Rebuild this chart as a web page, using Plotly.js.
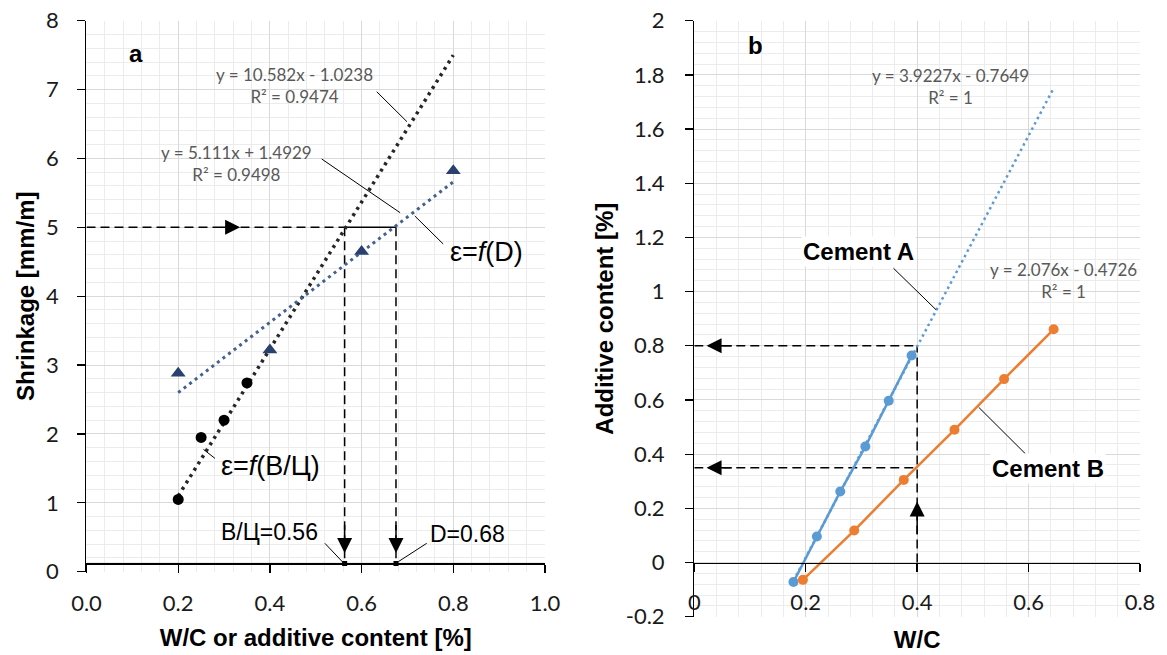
<!DOCTYPE html>
<html>
<head>
<meta charset="utf-8">
<script src="https://cdn.plot.ly/plotly-3.0.1.min.js"></script>
<style>html,body{margin:0;padding:0;background:#fff;}#chart{width:1167px;height:655px;}</style>
</head>
<body>
<div id="chart"></div>
<script>
// ---------- Panel a data ----------
const wcRatio = [0.2, 0.25, 0.3, 0.35];
const shrinkWC = [1.05, 1.95, 2.2, 2.74];
const dosageD = [0.2, 0.4, 0.6, 0.8];
const shrinkD = [2.88, 3.22, 4.65, 5.82];
const trendWCx = [0.2, 0.8];
const trendWCy = [1.1, 7.5];
const trendDx = [0.2, 0.8];
const trendDy = [2.6, 5.66];
const targetShrink = 5;
const readWC = 0.563;
const readD = 0.675;
const baseY = 0.12;
const xTicksA = [0, 0.2, 0.4, 0.6, 0.8, 1.0];
const xTickTextA = ["0.0", "0.2", "0.4", "0.6", "0.8", "1.0"];
const yTicksA = [0, 1, 2, 3, 4, 5, 6, 7, 8];
const yTickTextA = ["0", "1", "2", "3", "4", "5", "6", "7", "8"];

// ---------- Panel b data ----------
const wcA = [0.178, 0.220, 0.262, 0.307, 0.349, 0.390];
const addA = [-0.072, 0.096, 0.262, 0.428, 0.597, 0.764];
const wcB = [0.195, 0.287, 0.376, 0.467, 0.556, 0.645];
const addB = [-0.064, 0.118, 0.305, 0.490, 0.677, 0.861];
const trendAx = [0.178, 0.644];
const trendAy = [-0.067, 1.747];
const readWCb = 0.4;
const readAddA = 0.8;
const readAddB = 0.35;
const xTicksB = [0, 0.2, 0.4, 0.6, 0.8];
const xTickTextB = ["0", "0.2", "0.4", "0.6", "0.8"];
const yTicksB = [-0.2, 0, 0.2, 0.4, 0.6, 0.8, 1, 1.2, 1.4, 1.6, 1.8, 2];
const yTickTextB = ["-0.2", "0", "0.2", "0.4", "0.6", "0.8", "1", "1.2", "1.4", "1.6", "1.8", "2"];

const ARIAL = "Liberation Sans, Arial, sans-serif";
const CAL = "Lato, Open Sans, sans-serif";
const dashG = "9px,5px";

const traces = [
  // panel a guides
  {x: [0, readWC], y: [targetShrink, targetShrink], xaxis: 'x', yaxis: 'y', mode: 'lines', line: {color: '#000', width: 1.5, dash: dashG}, hoverinfo: 'skip'},
  {x: [readWC, readD], y: [targetShrink, targetShrink], xaxis: 'x', yaxis: 'y', mode: 'lines', line: {color: '#000', width: 1.5}, hoverinfo: 'skip'},
  {x: [readWC, readWC], y: [targetShrink, baseY], xaxis: 'x', yaxis: 'y', mode: 'lines', line: {color: '#000', width: 1.5, dash: dashG}, hoverinfo: 'skip'},
  {x: [readD, readD], y: [targetShrink, baseY], xaxis: 'x', yaxis: 'y', mode: 'lines', line: {color: '#000', width: 1.5, dash: dashG}, hoverinfo: 'skip'},
  {x: [readWC, readD], y: [baseY, baseY], xaxis: 'x', yaxis: 'y', mode: 'markers', marker: {symbol: 'square', size: 5, color: '#000'}, hoverinfo: 'skip'},
  // panel a trends
  {x: trendWCx, y: trendWCy, xaxis: 'x', yaxis: 'y', mode: 'lines', line: {color: '#262626', width: 3.5, dash: '3px,4.5px'}, hoverinfo: 'skip'},
  {x: trendDx, y: trendDy, xaxis: 'x', yaxis: 'y', mode: 'lines', line: {color: '#44618f', width: 3, dash: '3px,4px'}, hoverinfo: 'skip'},
  // panel a markers
  {x: wcRatio, y: shrinkWC, xaxis: 'x', yaxis: 'y', mode: 'markers', marker: {symbol: 'circle', size: 11, color: '#000'}, name: 'ε=f(В/Ц)'},
  {x: dosageD, y: shrinkD, xaxis: 'x', yaxis: 'y', mode: 'markers', marker: {symbol: 'triangle-up', size: 13, color: '#2a4170'}, name: 'ε=f(D)'},
  // panel b guides
  {x: [0, readWCb], y: [readAddA, readAddA], xaxis: 'x2', yaxis: 'y2', mode: 'lines', line: {color: '#000', width: 1.5, dash: dashG}, hoverinfo: 'skip'},
  {x: [0, readWCb], y: [readAddB, readAddB], xaxis: 'x2', yaxis: 'y2', mode: 'lines', line: {color: '#000', width: 1.5, dash: dashG}, hoverinfo: 'skip'},
  {x: [readWCb, readWCb], y: [0, readAddA], xaxis: 'x2', yaxis: 'y2', mode: 'lines', line: {color: '#000', width: 1.5, dash: dashG}, hoverinfo: 'skip'},
  // panel b trend A
  {x: trendAx, y: trendAy, xaxis: 'x2', yaxis: 'y2', mode: 'lines', line: {color: '#5b9bd5', width: 2.5, dash: '2.5px,3.5px'}, hoverinfo: 'skip'},
  // panel b series
  {x: wcA, y: addA, xaxis: 'x2', yaxis: 'y2', mode: 'lines+markers', line: {color: '#5b9bd5', width: 2.5}, marker: {size: 10, color: '#5b9bd5'}, name: 'Cement A'},
  {x: wcB, y: addB, xaxis: 'x2', yaxis: 'y2', mode: 'lines+markers', line: {color: '#ed7d31', width: 2.5}, marker: {size: 10, color: '#ed7d31'}, name: 'Cement B'}
];

const gridMajor = '#d9d9d9';
const gridMinor = '#ececec';

function ann(xr, yr, x, y, text, font, extra) {
  return Object.assign({xref: xr, yref: yr, x: x, y: y, text: text, showarrow: false, xanchor: 'center', yanchor: 'middle', font: font}, extra || {});
}
function arrow(xr, yr, x, y, ax, ay) {
  return {xref: xr, yref: yr, axref: xr, ayref: yr, x: x, y: y, ax: ax, ay: ay, text: '', showarrow: true, arrowhead: 2, arrowsize: 2, arrowwidth: 1.5, arrowcolor: '#000', standoff: 0, startstandoff: 0};
}
function seg(xr, yr, x0, y0, x1, y1) {
  return {type: 'line', xref: xr, yref: yr, x0: x0, y0: y0, x1: x1, y1: y1, line: {color: '#000', width: 1}};
}

const eqFont = {family: CAL, size: 17, color: '#595959'};
const bigFont = {family: ARIAL, size: 27, color: '#000'};
const midFont = {family: ARIAL, size: 23, color: '#000'};
const boldFont = {family: ARIAL, size: 24, color: '#000', weight: 'bold'};

const layout = {
  width: 1167, height: 655,
  margin: {l: 0, r: 0, t: 0, b: 0},
  paper_bgcolor: '#fff', plot_bgcolor: '#fff',
  showlegend: false,
  xaxis: {
    domain: [0.07412, 0.46701], range: [0, 1.0], anchor: 'free', position: 0.14,
    tickmode: 'array', tickvals: xTicksA, ticktext: xTickTextA,
    showline: true, linecolor: '#000', linewidth: 1.3, ticks: 'outside', ticklen: 8, tickcolor: '#000', tickwidth: 1.3,
    showgrid: true, gridcolor: gridMajor, zeroline: false,
    minor: {tickmode: 'linear', tick0: 0, dtick: 0.04, showgrid: true, gridcolor: gridMinor, ticks: ''},
    tickfont: {family: CAL, size: 22, color: '#1a1a1a'}, ticklabelstandoff: 12,
    title: {text: 'W/C or additive content [%]', font: {family: ARIAL, size: 24, color: '#000', weight: 'bold'}, standoff: 14}
  },
  yaxis: {
    domain: [0.12718, 0.9684], range: [0, 8], anchor: 'x',
    tickmode: 'array', tickvals: yTicksA, ticktext: yTickTextA,
    showline: true, linecolor: '#000', linewidth: 1.3, ticks: 'outside', ticklen: 8, tickcolor: '#000', tickwidth: 1.3,
    showgrid: true, gridcolor: gridMajor, zeroline: false,
    minor: {tickmode: 'linear', tick0: 0, dtick: 0.2, showgrid: true, gridcolor: gridMinor, ticks: ''},
    tickfont: {family: CAL, size: 22, color: '#1a1a1a'}, ticklabelstandoff: 14,
    title: {text: 'Shrinkage [mm/m]', font: {family: ARIAL, size: 24, color: '#000', weight: 'bold'}, standoff: 4}
  },
  xaxis2: {
    domain: [0.59494, 0.97686], range: [0, 0.8], anchor: 'free', position: 0.14092,
    tickmode: 'array', tickvals: xTicksB, ticktext: xTickTextB,
    showline: true, linecolor: '#000', linewidth: 1.3, ticks: 'outside', ticklen: 8, tickcolor: '#000', tickwidth: 1.3,
    showgrid: true, gridcolor: gridMajor, zeroline: false,
    minor: {tickmode: 'linear', tick0: 0, dtick: 0.04, showgrid: true, gridcolor: gridMinor, ticks: ''},
    tickfont: {family: CAL, size: 22, color: '#1a1a1a'}, ticklabelstandoff: 12,
    title: {text: 'W/C', font: {family: ARIAL, size: 24, color: '#000', weight: 'bold'}, standoff: 16}
  },
  yaxis2: {
    domain: [0.05847, 0.9684], range: [-0.2, 2], anchor: 'x2',
    tickmode: 'array', tickvals: yTicksB, ticktext: yTickTextB,
    showline: true, linecolor: '#000', linewidth: 1.3, ticks: 'outside', ticklen: 8, tickcolor: '#000', tickwidth: 1.3,
    showgrid: true, gridcolor: gridMajor, zeroline: false,
    minor: {tickmode: 'linear', tick0: 0, dtick: 0.04, showgrid: true, gridcolor: gridMinor, ticks: ''},
    tickfont: {family: CAL, size: 22, color: '#1a1a1a'}, ticklabelstandoff: 16,
    title: {text: 'Additive content [%]', font: {family: ARIAL, size: 24, color: '#000', weight: 'bold'}, standoff: 5}
  },
  shapes: [
    seg('x', 'y', 0, baseY, 1.0, baseY),
    seg('x', 'y', 0.633, 6.969, 0.699, 6.533),
    seg('x', 'y', 0.513, 5.992, 0.684, 5.212),
    seg('x', 'y', 0.716, 5.165, 0.778, 4.758),
    seg('x', 'y', 0.255, 1.777, 0.280, 1.646),
    seg('x', 'y', 0.520, 0.412, 0.560, 0.131),
    seg('x', 'y', 0.742, 0.412, 0.680, 0.145),
    seg('x2', 'y2', 0.3576, 1.086, 0.4342, 0.9325),
    seg('x2', 'y2', 0.5945, 0.401, 0.5105, 0.573)
  ],
  annotations: [
    ann('x', 'y', 0.107, 7.53, 'a', boldFont),
    ann('x', 'y', 0.454, 7.055, 'y = 10.582x - 1.0238<br>R² = 0.9474', eqFont),
    ann('x', 'y', 0.327, 5.924, 'y = 5.111x + 1.4929<br>R² = 0.9498', eqFont),
    ann('x', 'y', 0.873, 4.646, 'ε=<i>f</i>(D)', bigFont),
    ann('x', 'y', 0.401, 1.535, 'ε=<i>f</i>(В/Ц)', bigFont),
    ann('x', 'y', 0.399, 0.576, 'В/Ц=0.56', midFont),
    ann('x', 'y', 0.831, 0.547, 'D=0.68', midFont),
    arrow('x', 'y', 0.335, targetShrink, 0.29, targetShrink),
    arrow('x', 'y', readWC, 0.27, readWC, 0.7),
    arrow('x', 'y', readD, 0.27, readD, 0.7),
    ann('x2', 'y2', 0.109, 1.91, 'b', boldFont),
    ann('x2', 'y2', 0.460, 1.757, 'y = 3.9227x - 0.7649<br>R² = 1', eqFont),
    ann('x2', 'y2', 0.662, 1.040, 'y = 2.076x - 0.4726<br>R² = 1', eqFont),
    ann('x2', 'y2', 0.2955, 1.148, 'Cement A', boldFont, {bgcolor: '#fff'}),
    ann('x2', 'y2', 0.635, 0.346, 'Cement B', boldFont, {bgcolor: '#fff'}),
    arrow('x2', 'y2', 0.022, readAddA, 0.07, readAddA),
    arrow('x2', 'y2', 0.022, readAddB, 0.07, readAddB),
    arrow('x2', 'y2', readWCb, 0.225, readWCb, 0.1)
  ]
};

Plotly.newPlot('chart', traces, layout, {displayModeBar: false, staticPlot: true});
</script>
</body>
</html>
